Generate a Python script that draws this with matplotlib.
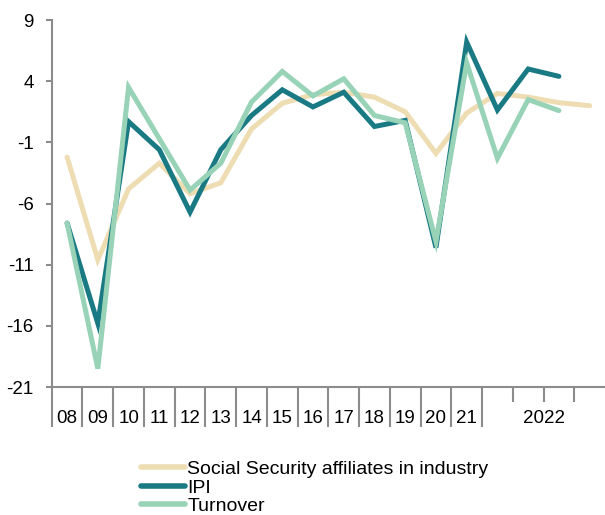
import matplotlib
matplotlib.use("Agg")
import matplotlib.pyplot as plt
import matplotlib.transforms as mtransforms
import numpy as np

plt.rcParams['font.family'] = ['Liberation Sans', 'DejaVu Sans']

# Year labels (the last four points are the 2022 quarters).
year_labels = ["08", "09", "10", "11", "12", "13", "14", "15", "16", "17",
               "18", "19", "20", "21"]
group_label = "2022"
n_quarters = 4

social_security = [-2.2, -10.6, -4.8, -2.7, -5.2, -4.3, 0.1, 2.2, 2.9, 3.1,
                   2.7, 1.5, -1.9, 1.4, 3.0, 2.7, 2.25, 2.0]
ipi = [-7.6, -15.8, 0.7, -1.6, -6.7, -1.6, 1.2, 3.3, 1.9, 3.1,
       0.3, 0.8, -9.6, 7.2, 1.65, 5.0, 4.4]
turnover = [-7.6, -19.5, 3.5, -0.7, -4.9, -2.7, 2.3, 4.8, 2.8, 4.2,
            1.2, 0.6, -9.1, 5.5, -2.3, 2.5, 1.6]

yticks = [9, 4, -1, -6, -11, -16, -21]

c_social = "#EEDDB3"
c_ipi = "#1A7A84"
c_turn = "#98D3B8"
c_axis = "#8C8C8C"

fig = plt.figure(figsize=(6.05, 5.15), dpi=100)
ax = fig.add_axes([0.0855, 0.2485, 0.9145, 0.7125])

n_total = len(year_labels) + n_quarters
lw = 3.6
ax.plot(np.arange(len(social_security)), social_security, color=c_social,
        lw=lw, solid_capstyle="round", solid_joinstyle="miter",
        label="Social Security affiliates in industry", zorder=2)
ax.plot(np.arange(len(ipi)), ipi, color=c_ipi, lw=lw,
        solid_capstyle="round", solid_joinstyle="miter", label="IPI", zorder=3)
ax.plot(np.arange(len(turnover)), turnover, color=c_turn, lw=lw,
        solid_capstyle="round", solid_joinstyle="miter", label="Turnover", zorder=4)

ax.set_xlim(-0.5, n_total - 0.5)
ax.set_ylim(-21, 9)
ax.set_yticks(yticks)
ax.set_yticklabels([str(v) for v in yticks], fontsize=13.5)

for side in ("top", "right"):
    ax.spines[side].set_visible(False)
for side in ("left", "bottom"):
    ax.spines[side].set_color(c_axis)
    ax.spines[side].set_linewidth(1.5)

ax.tick_params(axis="y", direction="out", length=4, width=1.5, color=c_axis,
               pad=9, labelcolor="black")

# x axis: separators between categories, long ones between years
long_ticks = np.arange(len(year_labels) + 1) - 0.5
short_ticks = np.arange(len(year_labels) + 1, n_total) - 0.5
ax.set_xticks(long_ticks)
ax.set_xticklabels([])
ax.tick_params(axis="x", which="major", direction="out", length=29,
               width=1.5, color=c_axis)
ax.set_xticks(short_ticks, minor=True)
ax.tick_params(axis="x", which="minor", direction="out", length=11,
               width=1.5, color=c_axis)

trans = mtransforms.blended_transform_factory(ax.transData, ax.transAxes)
for i, lab in enumerate(year_labels):
    ax.text(i, -0.085, lab, transform=trans, ha="center", va="center",
            fontsize=13.5)
ax.text(len(year_labels) + (n_quarters - 1) / 2, -0.085, group_label,
        transform=trans, ha="center", va="center", fontsize=13.5)

leg = fig.legend(loc="upper left", bbox_to_anchor=(0.2326, 0.106),
                 frameon=False, fontsize=14, handlelength=2.3,
                 handletextpad=0.1, labelspacing=0.05, borderpad=0,
                 borderaxespad=0)
for line in leg.get_lines():
    line.set_linewidth(4)
    line.set_solid_capstyle("round")

fig.savefig("out.png", dpi=100)
